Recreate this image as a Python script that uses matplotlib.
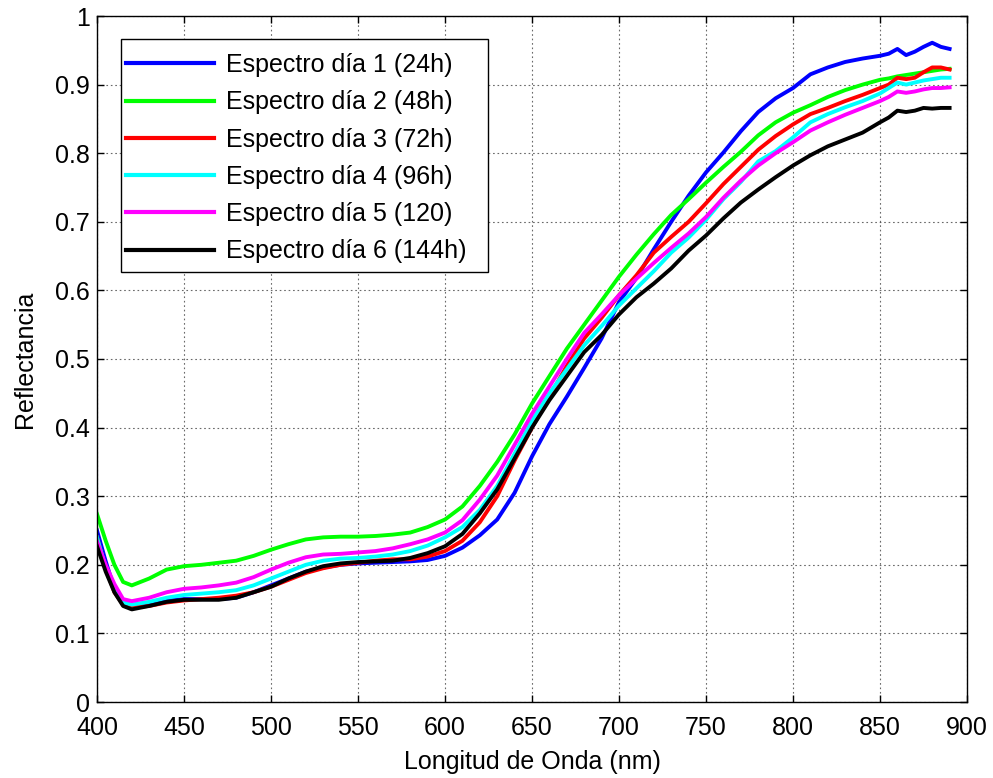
import matplotlib
matplotlib.use("Agg")
import matplotlib.pyplot as plt
from matplotlib.patches import Rectangle

plt.rcParams['font.family'] = ['Liberation Sans', 'DejaVu Sans']

wavelength = [400, 405, 410, 415, 420, 430, 440, 450, 460, 470, 480, 490, 500, 510, 520, 530,
              540, 550, 560, 570, 580, 590, 600, 610, 620, 630, 640, 650, 660, 670, 680, 690,
              700, 710, 720, 730, 740, 750, 760, 770, 780, 790, 800, 810, 820, 830, 840, 850,
              855, 860, 865, 870, 875, 880, 885, 890]

dia1 = [.250, .205, .165, .145, .140, .143, .148, .150, .150, .150, .152, .160, .170, .180, .190, .196,
        .200, .202, .203, .204, .205, .207, .213, .225, .243, .266, .305, .358, .405, .445, .487, .530,
        .583, .618, .660, .700, .738, .772, .801, .832, .860, .880, .895, .915, .925, .933, .938, .942,
        .945, .952, .943, .948, .955, .961, .955, .952]
dia2 = [.274, .235, .200, .175, .170, .180, .193, .198, .200, .203, .206, .213, .222, .230, .237, .240,
        .241, .241, .242, .244, .247, .255, .266, .285, .315, .350, .390, .435, .475, .515, .550, .585,
        .620, .652, .682, .710, .733, .757, .780, .802, .826, .845, .859, .870, .882, .892, .900, .907,
        .909, .912, .914, .916, .918, .920, .922, .923]
dia3 = [.240, .195, .160, .142, .138, .140, .145, .148, .150, .152, .155, .160, .168, .178, .188, .195,
        .200, .203, .206, .208, .208, .212, .220, .235, .262, .300, .352, .400, .445, .490, .530, .560,
        .593, .622, .655, .678, .700, .727, .755, .780, .805, .825, .842, .857, .866, .876, .885, .895,
        .900, .910, .908, .910, .918, .925, .925, .922]
dia4 = [.240, .195, .162, .145, .142, .146, .152, .156, .158, .160, .163, .170, .180, .190, .200, .206,
        .209, .210, .212, .215, .220, .228, .240, .255, .280, .315, .362, .410, .450, .485, .520, .548,
        .578, .603, .628, .655, .677, .703, .733, .758, .788, .803, .823, .845, .857, .867, .876, .887,
        .895, .903, .900, .903, .906, .908, .910, .910]
dia5 = [.234, .200, .172, .150, .147, .152, .160, .165, .167, .170, .174, .182, .193, .203, .211, .215,
        .216, .218, .220, .224, .230, .237, .247, .265, .295, .330, .375, .420, .460, .500, .538, .565,
        .593, .617, .640, .662, .683, .707, .735, .760, .782, .800, .816, .833, .845, .856, .866, .876,
        .882, .890, .888, .890, .893, .895, .895, .896]
dia6 = [.227, .190, .160, .140, .135, .140, .146, .149, .149, .149, .152, .160, .168, .180, .190, .198,
        .202, .204, .205, .206, .210, .217, .227, .245, .275, .310, .355, .400, .440, .475, .510, .535,
        .565, .590, .610, .632, .658, .680, .705, .728, .747, .765, .782, .797, .810, .820, .830, .845,
        .852, .862, .860, .862, .866, .865, .866, .866]

series = [dia1, dia2, dia3, dia4, dia5, dia6]
labels = ['Espectro día 1 (24h)', 'Espectro día 2 (48h)', 'Espectro día 3 (72h)',
          'Espectro día 4 (96h)', 'Espectro día 5 (120)', 'Espectro día 6 (144h)']
colors = ['#0000ff', '#00ff00', '#ff0000', '#00ffff', '#ff00ff', '#000000']

xticks = list(range(400, 901, 50))
yticks = [0, 0.1, 0.2, 0.3, 0.4, 0.5, 0.6, 0.7, 0.8, 0.9, 1]
ytick_labels = ['0', '0.1', '0.2', '0.3', '0.4', '0.5', '0.6', '0.7', '0.8', '0.9', '1']

FS = 18

fig = plt.figure(figsize=(9.93, 7.78), dpi=100)
ax = fig.add_axes([97/993, 76/778, 870/993, 686/778])

for y, lab, c in zip(series, labels, colors):
    ax.plot(wavelength, y, color=c, lw=2.8, label=lab)

ax.set_xlim(400, 900)
ax.set_ylim(0, 1)
ax.set_xticks(xticks)
ax.set_yticks(yticks)
ax.set_yticklabels(ytick_labels)
ax.tick_params(direction='in', top=True, right=True, length=5, labelsize=FS, width=1)
ax.tick_params(axis='x', pad=10)
ax.tick_params(axis='y', pad=5)
ax.grid(True, linestyle=(0, (1.5, 2.5)), color='#444444', lw=0.8, alpha=0.8)
for s in ax.spines.values():
    s.set_linewidth(1)
ax.set_xlabel('Longitud de Onda (nm)', fontsize=FS, labelpad=7)
ax.set_ylabel('Reflectancia', fontsize=FS, labelpad=13)

# legend frame (MATLAB style box)
ax.add_patch(Rectangle((24/870, 1 - (272-16)/686), 367/870, 233/686, transform=ax.transAxes,
                       facecolor='white', edgecolor='black', lw=1, zorder=5))
leg = ax.legend(loc='upper left', bbox_to_anchor=((126-97)/870, 1 - (53-16)/686), borderaxespad=0,
                fontsize=FS, frameon=False, handlelength=3.5, handletextpad=0.5,
                labelspacing=0.53, borderpad=0)
leg.set_zorder(6)
for h in leg.get_lines():
    h.set_linewidth(3)

fig.savefig('out.png', dpi=100)
